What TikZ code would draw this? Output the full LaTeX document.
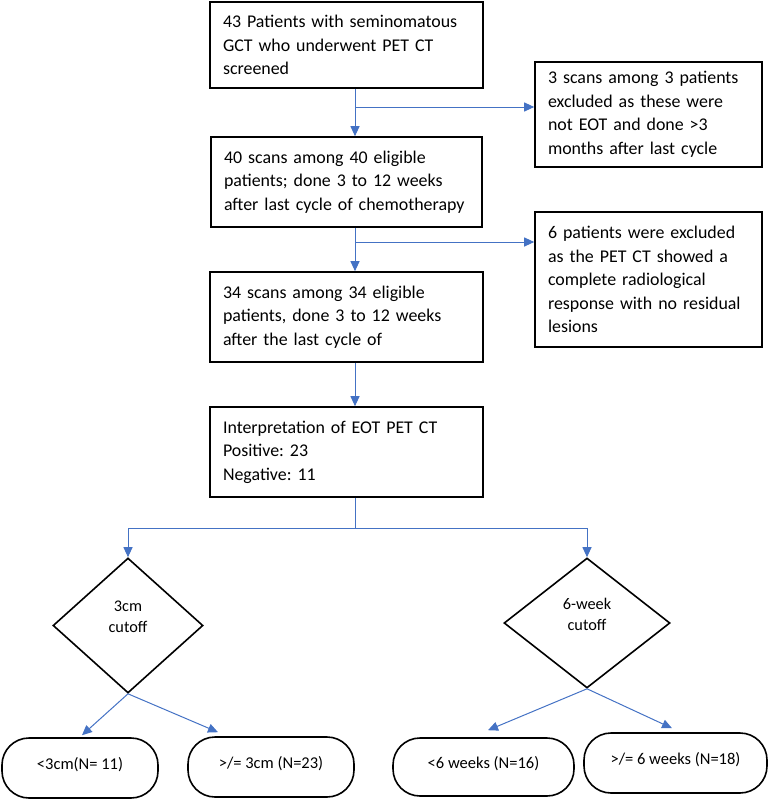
\documentclass[tikz,border=0pt]{standalone}
\usepackage{fontspec}
\setmainfont{Carlito}
\usetikzlibrary{arrows.meta,shapes.geometric,calc}
\definecolor{flowblue}{HTML}{4472C4}
\newcommand{\nobrk}[1]{\mbox{#1}}
\begin{document}
\begin{tikzpicture}[x=1pt,y=-1pt,
  box/.style={draw=black, line width=1.6pt, rectangle, inner xsep=13pt, inner ysep=0pt,
    align=left, font=\fontsize{17.9}{23.5}\selectfont\frenchspacing},
  decision/.style={draw=black, line width=1.6pt, diamond, inner sep=0pt, align=center,
    font=\fontsize{16.3}{21}\selectfont},
  terminal/.style={draw=black, line width=1.6pt, rectangle, rounded corners=27pt, inner sep=0pt,
    align=center, font=\fontsize{16.5}{20}\selectfont},
  ln/.style={draw=flowblue, line width=1pt},
  arr/.style={draw=flowblue, line width=1pt, -{Triangle[length=10pt,width=9pt]}, fill=none}]
\useasboundingbox (0,0) rectangle (769,800);

% main column
\node[box, text width=247pt, minimum height=86pt] (b1) at (346.5,45)
  {\nobrk{43 Patients with seminomatous}\\\nobrk{GCT who underwent PET CT}\\\nobrk{screened}};
\node[box, text width=245pt, minimum height=90pt] (b2) at (346.5,182)
  {\nobrk{40 scans among 40 eligible}\\\nobrk{patients; done 3 to 12 weeks}\\\nobrk{after last cycle of chemotherapy}};
\node[box, text width=247pt, minimum height=90pt] (b3) at (346.5,317)
  {\nobrk{34 scans among 34 eligible}\\\nobrk{patients, done 3 to 12 weeks}\\\nobrk{after the last cycle of}};
\node[box, text width=247pt, minimum height=90pt] (b4) at (346.5,452)
  {\nobrk{Interpretation of EOT PET CT}\\\nobrk{Positive: 23}\\\nobrk{Negative: 11}};

% side boxes
\node[box, text width=201pt, minimum height=105pt] (s1) at (648.5,114.5)
  {\nobrk{3 scans among 3 patients}\\\nobrk{excluded as these were}\\\nobrk{not EOT and done >3}\\\nobrk{months after last cycle}};
\node[box, text width=201pt, minimum height=135pt] (s2) at (648.5,279.5)
  {\nobrk{6 patients were excluded}\\\nobrk{as the PET CT showed a}\\\nobrk{complete radiological}\\\nobrk{response with no residual}\\\nobrk{lesions}};

% decisions
\node[decision, minimum width=150pt, minimum height=135pt] (d1) at (128,625.5) {3cm\\cutoff\\[-4pt]};
\node[decision, minimum width=166pt, minimum height=130pt] (d2) at (587,623) {6-week\\cutoff\\[-4pt]};

% terminals
\node[terminal, minimum width=156pt, minimum height=60pt] (t1) at (80,768) {<3cm(N= 11)\\[-10pt]};
\node[terminal, minimum width=166pt, minimum height=60pt] (t2) at (271,767) {>/= 3cm (N=23)\\[-10pt]};
\node[terminal, minimum width=181pt, minimum height=58pt] (t3) at (483.5,767) {<6 weeks (N=16)\\[-10pt]};
\node[terminal, minimum width=183pt, minimum height=60pt] (t4) at (675.5,763) {>/= 6 weeks (N=18)\\[-10pt]};

% junctions
\coordinate (j1) at (355,107);
\coordinate (j2) at (355,242);
\coordinate (j3) at (355,528);

% connectors
\draw[arr] (b1.south -| j1) -- (b2.north -| j1);
\draw[arr] (j1) -- (j1 -| s1.west);
\draw[arr] (b2.south -| j2) -- (b3.north -| j2);
\draw[arr] (j2) -- (j2 -| s2.west);
\draw[arr] (b3.south -| j3) -- (b4.north -| j3);
\draw[ln] (b4.south -| j3) -- (j3);
\draw[arr] (j3) -| (d1.north);
\draw[arr] (j3) -| (d2.north);
\draw[arr] (d1.south) -- ([xshift=2pt,yshift=2pt]t1.north);
\draw[arr] (d1.south) -- ([xshift=-53pt,yshift=4pt]t2.north);
\draw[arr] (d2.south) -- ([xshift=4.5pt,yshift=7pt]t3.north);
\draw[arr] (d2.south) -- ([xshift=-3.5pt,yshift=4pt]t4.north);
\end{tikzpicture}
\end{document}
